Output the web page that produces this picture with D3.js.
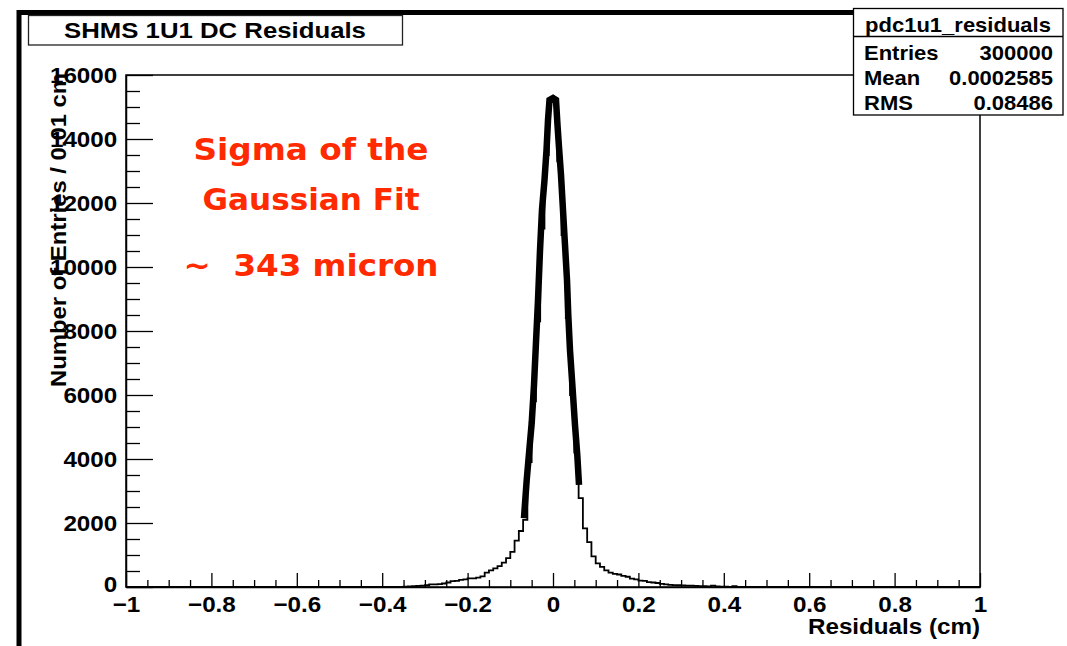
<!DOCTYPE html>
<html>
<head>
<meta charset="utf-8">
<script src="https://cdn.jsdelivr.net/npm/d3@7"></script>
<style>
  body { margin: 0; background: #fff; }
  svg { display: block; }
</style>
</head>
<body>
<svg id="chart" width="1067" height="646"></svg>
<script>
// histogram contents, 0.01 cm bins, first bin starts at binStart (all other bins are empty)
const binStart = -0.36;
const binWidth = 0.01;
const counts = [
    5, 12, 20, 25, 35, 45, 55, 80, 85, 90,
    110, 140, 185, 190, 220, 240, 270, 270, 290, 330,
    450, 520, 580, 650, 760, 900, 1100, 1450, 1750, 2100,
    3900, 5800, 8300, 11200, 13500, 15250, 15150, 13300, 11000, 8400,
    6000, 4200, 2780, 1830, 1400, 960, 740, 630, 520, 450,
    410, 390, 350, 320, 260, 240, 200, 190, 150, 140,
    125, 95, 80, 65, 60, 55, 50, 45, 40, 35,
    30, 25, 20, 40, 15, 10, 8, 5, 30, 5, 3
];

// gaussian fit curve as drawn
const fitX = [-0.068, -0.0616, -0.0555, -0.0499, -0.0445, -0.0398, -0.0351, -0.0304, -0.0258,
    -0.0199, -0.0152, -0.0117, -0.0082, 0, 0.007, 0.0105, 0.014, 0.0187, 0.0234, 0.0281,
    0.0328, 0.0358, 0.0398, 0.0461, 0.0515, 0.0569, 0.0609];
const fitY = [2150, 3340, 4280, 5120, 6310, 7650, 8970, 10530, 11780,
    12720, 13650, 14590, 15220, 15280, 15220, 14440, 13750, 12880, 11780, 10690,
    9590, 8500, 7400, 6160, 5060, 4120, 3190];

const xTicks = [-1, -0.8, -0.6, -0.4, -0.2, 0, 0.2, 0.4, 0.6, 0.8, 1];
const xTickLabels = ["\u22121", "\u22120.8", "\u22120.6", "\u22120.4", "\u22120.2", "0", "0.2", "0.4", "0.6", "0.8", "1"];
const yTicks = [0, 2000, 4000, 6000, 8000, 10000, 12000, 14000, 16000];
const yTickLabels = ["0", "2000", "4000", "6000", "8000", "10000", "12000", "14000", "16000"];

const histName = "pdc1u1_residuals";
const statNames = ["Entries", "Mean", "RMS"];
const statValues = ["300000", "0.0002585", "0.08486"];

const title = "SHMS 1U1 DC Residuals";
const xTitle = "Residuals (cm)";
const yTitle = "Number of Entries / 0.01 cm";
const noteLines = ["Sigma of the", "Gaussian Fit", "~  343 micron"];

// layout
const plot = {left: 126, right: 980, top: 75, bottom: 587};
const font = "'Liberation Sans', Arial, Helvetica, sans-serif";
const stretch = "scale(1.1,1)";

const svg = d3.select("#chart");

const x = d3.scaleLinear().domain([-1, 1]).range([plot.left, plot.right]);
const y = d3.scaleLinear().domain([0, 16000]).range([plot.bottom, plot.top]);

// canvas frame (thick border, left and top)
svg.append("path")
    .attr("d", "M19,646V12.5H854")
    .attr("fill", "none")
    .attr("stroke", "#000")
    .attr("stroke-width", 5);

// plot frame
svg.append("rect")
    .attr("x", plot.left)
    .attr("y", plot.top)
    .attr("width", plot.right - plot.left)
    .attr("height", plot.bottom - plot.top)
    .attr("fill", "none")
    .attr("stroke", "#000")
    .attr("stroke-width", 1.5);

// y axis: minor + major ticks pointing inward
const yMinor = d3.range(0, 16001, 500).filter(v => v % 2000 !== 0);
svg.append("g")
    .attr("transform", `translate(${plot.left},0)`)
    .call(d3.axisLeft(y).tickValues(yMinor).tickSize(-14).tickFormat(""))
    .call(g => g.select(".domain").remove())
    .call(g => g.selectAll("line").attr("stroke", "#000").attr("stroke-width", 1.3));

const yAxis = svg.append("g")
    .attr("transform", `translate(${plot.left},0)`)
    .call(d3.axisLeft(y).tickValues(yTicks).tickSizeInner(-27).tickSizeOuter(0)
        .tickPadding(8).tickFormat((d, i) => yTickLabels[i]))
    .attr("font-family", font)
    .attr("font-size", 22)
    .attr("font-weight", "bold");
yAxis.select(".domain").attr("stroke", "#000").attr("stroke-width", 1.5);
yAxis.selectAll("line").attr("stroke", "#000").attr("stroke-width", 1.3);
yAxis.selectAll("text").attr("fill", "#000").attr("transform", stretch);
// the "0" label sits a touch higher, clear of the "-1" below it
yAxis.selectAll("text").filter(d => d === 0).attr("dy", "0.2em");

// x axis
const xMinor = d3.range(-1, 1.0001, 0.05).filter(v => Math.abs(v * 5 - Math.round(v * 5)) > 1e-6);
svg.append("g")
    .attr("transform", `translate(0,${plot.bottom})`)
    .call(d3.axisBottom(x).tickValues(xMinor).tickSize(-7).tickFormat(""))
    .call(g => g.select(".domain").remove())
    .call(g => g.selectAll("line").attr("stroke", "#000").attr("stroke-width", 1.3));

const xAxis = svg.append("g")
    .attr("transform", `translate(0,${plot.bottom})`)
    .call(d3.axisBottom(x).tickValues(xTicks).tickSizeInner(-14).tickSizeOuter(0)
        .tickPadding(9).tickFormat((d, i) => xTickLabels[i]))
    .attr("font-family", font)
    .attr("font-size", 22)
    .attr("font-weight", "bold");
xAxis.select(".domain").attr("stroke", "#000").attr("stroke-width", 1.5);
xAxis.selectAll("line").attr("stroke", "#000").attr("stroke-width", 1.3);
xAxis.selectAll("text").attr("fill", "#000").attr("transform", stretch);

// histogram as steps
const binEnd = binStart + counts.length * binWidth;
const steps = [[-1, 0]]
    .concat(counts.map((c, i) => [binStart + i * binWidth, c]))
    .concat([[binEnd, 0], [1, 0]]);

svg.append("path")
    .datum(steps)
    .attr("fill", "none")
    .attr("stroke", "#000")
    .attr("stroke-width", 1.8)
    .attr("d", d3.line()
        .x(d => x(d[0]))
        .y(d => y(d[1]))
        .curve(d3.curveStepAfter));

// fit curve (thick)
svg.append("path")
    .datum(d3.zip(fitX, fitY))
    .attr("fill", "none")
    .attr("stroke", "#000")
    .attr("stroke-width", 6.5)
    .attr("d", d3.line()
        .x(d => x(d[0]))
        .y(d => y(d[1])));

// axis titles
svg.append("text")
    .attr("transform", `translate(${plot.right},634) ${stretch}`)
    .attr("text-anchor", "end")
    .attr("font-family", font)
    .attr("font-size", 22)
    .attr("font-weight", "bold")
    .text(xTitle);

svg.append("text")
    .attr("transform", "translate(66,73) rotate(-90)")
    .attr("text-anchor", "end")
    .attr("font-family", font)
    .attr("font-size", 22)
    .attr("font-weight", "bold")
    .attr("textLength", 314)
    .attr("lengthAdjust", "spacingAndGlyphs")
    .text(yTitle);

// title box
svg.append("rect")
    .attr("x", 28.5)
    .attr("y", 15.5)
    .attr("width", 374)
    .attr("height", 29.5)
    .attr("fill", "#fff")
    .attr("stroke", "#222")
    .attr("stroke-width", 1.3);

svg.append("text")
    .attr("transform", "translate(215,38) scale(1.12,1)")
    .attr("text-anchor", "middle")
    .attr("font-family", font)
    .attr("font-size", 23)
    .attr("font-weight", "bold")
    .text(title);

// stats box
const stats = {left: 853.5, top: 8.5, right: 1063, bottom: 115};
svg.append("rect")
    .attr("x", stats.left)
    .attr("y", stats.top)
    .attr("width", stats.right - stats.left)
    .attr("height", stats.bottom - stats.top)
    .attr("fill", "#fff")
    .attr("stroke", "#000")
    .attr("stroke-width", 1.3);
svg.append("line")
    .attr("x1", stats.left).attr("x2", stats.right)
    .attr("y1", 36.5).attr("y2", 36.5)
    .attr("stroke", "#000")
    .attr("stroke-width", 1.3);

const statText = svg.append("g")
    .attr("font-family", font)
    .attr("font-size", 20)
    .attr("font-weight", "bold");

statText.append("text")
    .attr("transform", `translate(958,32) ${stretch}`)
    .attr("text-anchor", "middle")
    .text(histName);

statNames.forEach((name, i) => {
    statText.append("text")
        .attr("transform", `translate(864,${60 + i * 25}) ${stretch}`)
        .text(name);
    statText.append("text")
        .attr("transform", `translate(1053,${60 + i * 25}) ${stretch}`)
        .attr("text-anchor", "end")
        .text(statValues[i]);
});

// red annotation
const noteBase = [160, 210, 276];
const noteWidth = [235, 217, 255];
noteLines.forEach((t, i) => {
    svg.append("text")
        .attr("x", 311)
        .attr("y", noteBase[i])
        .attr("text-anchor", "middle")
        .attr("font-family", "'DejaVu Sans', sans-serif")
        .attr("font-size", 30)
        .attr("font-weight", "bold")
        .attr("fill", "#ff2a00")
        .attr("textLength", noteWidth[i])
        .attr("lengthAdjust", "spacingAndGlyphs")
        .style("white-space", "pre")
        .text(t);
});
</script>
</body>
</html>
